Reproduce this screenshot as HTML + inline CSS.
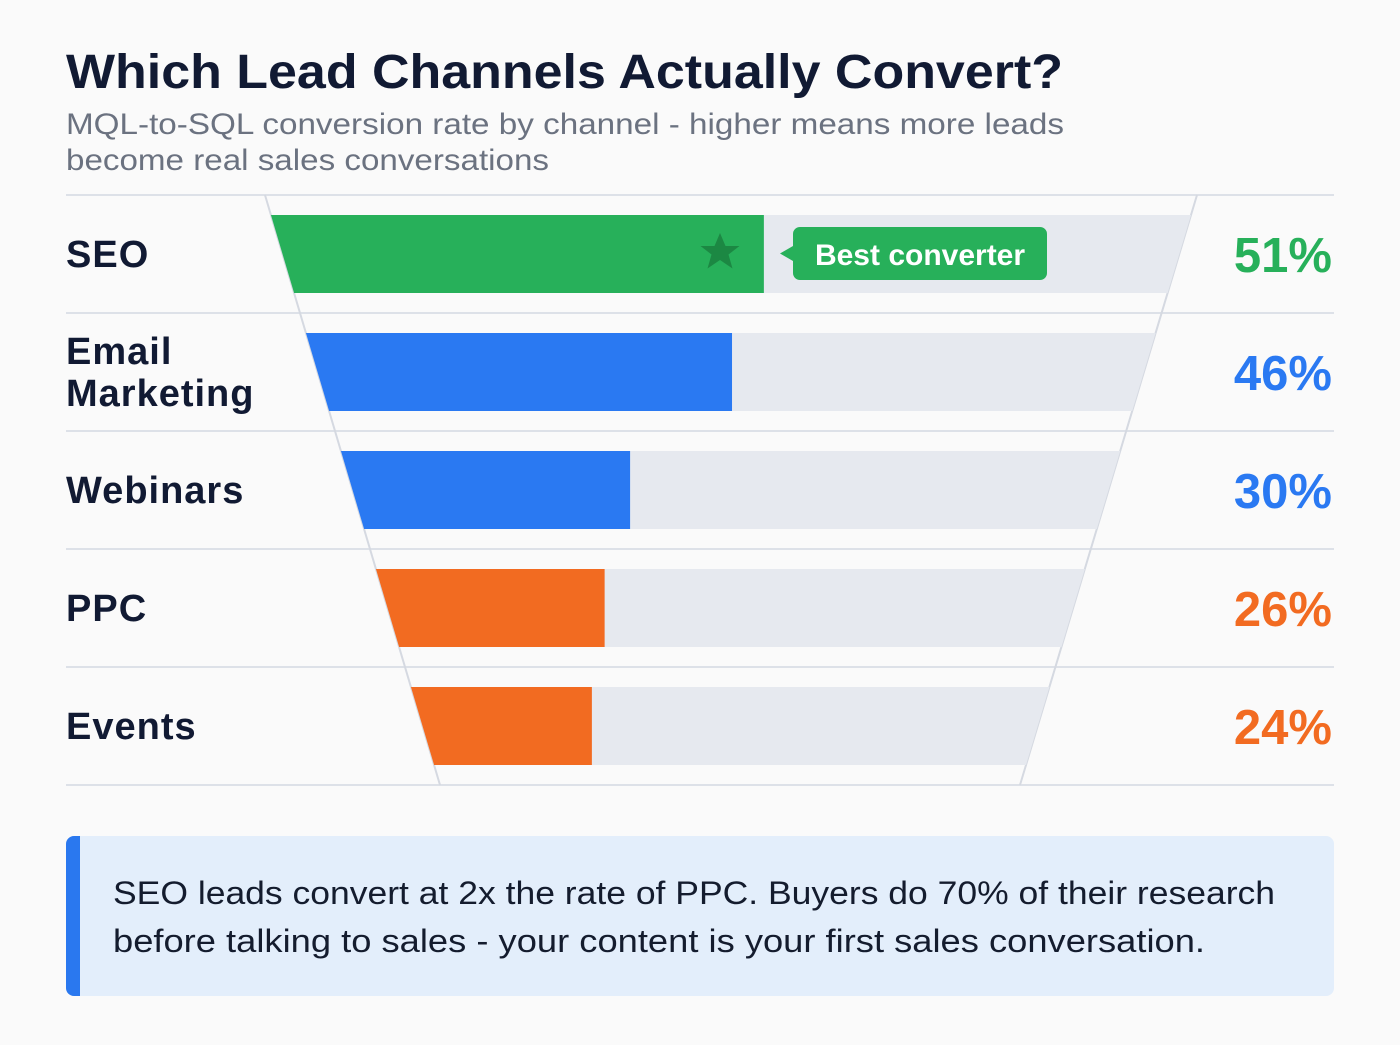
<!DOCTYPE html>
<html><head><meta charset="utf-8"><style>
body{margin:0;width:1400px;height:1045px;background:#fafafa;font-family:"Liberation Sans",sans-serif;overflow:hidden}
svg{position:absolute;left:0;top:0}
</style></head><body>
<svg width="1400" height="1045">
<text x="66" y="88" font-size="48" font-weight="700" fill="#111a33" textLength="997" lengthAdjust="spacingAndGlyphs">Which Lead Channels Actually Convert?</text>
<text x="66" y="134" font-size="30" fill="#6b7280" textLength="998" lengthAdjust="spacingAndGlyphs">MQL-to-SQL conversion rate by channel - higher means more leads</text>
<text x="66" y="170" font-size="30" fill="#6b7280" textLength="483" lengthAdjust="spacingAndGlyphs">become real sales conversations</text>
<g id="rows"></g>
<rect x="66" y="836" width="1268" height="160" rx="8" fill="#e3eefb"/>
<path d="M74 836 h6 v160 h-6 a8 8 0 0 1 -8 -8 v-144 a8 8 0 0 1 8 -8z" fill="#2a78ef"/>
<text x="113" y="904" font-size="32" fill="#141c2e" textLength="1162" lengthAdjust="spacingAndGlyphs">SEO leads convert at 2x the rate of PPC. Buyers do 70% of their research</text>
<text x="113" y="952" font-size="32" fill="#141c2e" textLength="1092" lengthAdjust="spacingAndGlyphs">before talking to sales - your content is your first sales conversation.</text>
</svg>
<script>
const channels=["SEO","Email|Marketing","Webinars","PPC","Events"];
const rates=[51,46,30,26,24];
const colors=["#27b05a","#2a79f2","#2a79f2","#f26b21","#f26b21"];
const NS="http://www.w3.org/2000/svg";
const g=document.getElementById("rows");
const top0=195,rowH=118,bot=785;
const leftX=y=>265+(y-top0)*(175/590);
const rightX=y=>1197-(y-top0)*(177/590);
const xVal=v=>439+6.37*v;
function mk(t,a){const e=document.createElementNS(NS,t);for(const k in a)e.setAttribute(k,a[k]);g.appendChild(e);return e;}
for(let i=0;i<=5;i++){
 const l=mk("line",{x1:66,x2:1334,y1:top0+i*rowH,y2:top0+i*rowH,stroke:"#dde1e8","stroke-width":2});
 
 
}
const f1=mk("line",{x1:265,y1:top0,x2:440,y2:bot,stroke:"#d5d9e1","stroke-width":2});


const f2=mk("line",{x1:1197,y1:top0,x2:1020,y2:bot,stroke:"#d5d9e1","stroke-width":2});


channels.forEach((c,i)=>{
 const y1=top0+i*rowH+20,y2=y1+78;
 const bg=mk("polygon",{points:`${leftX(y1)},${y1} ${rightX(y1)},${y1} ${rightX(y2)},${y2} ${leftX(y2)},${y2}`,fill:"#e6e9ef"});
 
 
 const xe=xVal(rates[i]);
 const b=mk("polygon",{points:`${leftX(y1)},${y1} ${xe},${y1} ${xe},${y2} ${leftX(y2)},${y2}`,fill:colors[i]});
 
 
 const parts=c.split('|');const cy=(y1+y2)/2;
 parts.forEach((p,j)=>{
  const t=mk("text",{x:66,y:cy+13+(j-(parts.length-1)/2)*42,"font-size":38,"font-weight":700,fill:"#111a33","letter-spacing":1});t.textContent=p;
  
  
 });
 const v=mk("text",{x:1332,y:cy+18,"font-size":49,"font-weight":700,fill:colors[i],"text-anchor":"end"});v.textContent=rates[i]+"%";
 
 
 if(i===0){
  const s=mk("path",{d:"M720 233 l5.5 13 h14 l-11 8.5 l4 14 l-12.5-8.5 l-12.5 8.5 l4-14 l-11-8.5 h14z",fill:"#1c8843"});
  
  
  const cb=mk("path",{d:"M800 227 h240 a7 7 0 0 1 7 7 v39 a7 7 0 0 1 -7 7 h-240 a7 7 0 0 1 -7 -7 v-12 l-13 -7.5 l13 -7.5 v-12 a7 7 0 0 1 7 -7z",fill:"#27b05a"});
  
  
  const ct=mk("text",{x:920,y:265,"font-size":30,"font-weight":700,fill:"#fff","text-anchor":"middle"});ct.textContent="Best converter";
  
  
 }
});
</script>
</body></html>
